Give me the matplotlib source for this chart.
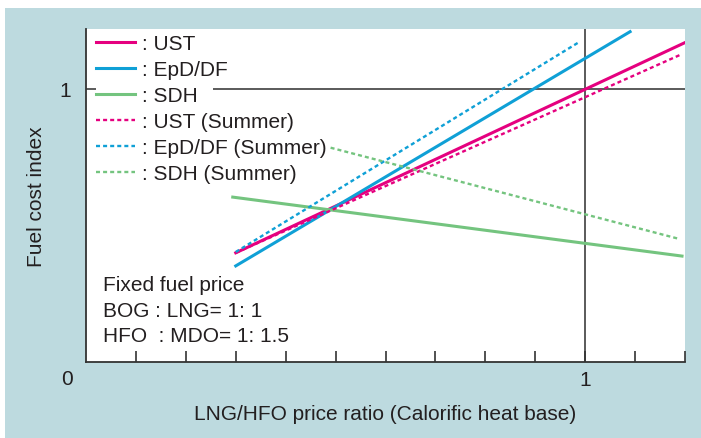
import matplotlib
matplotlib.use("Agg")
import matplotlib.pyplot as plt

plt.rcParams['font.family'] = ['Liberation Sans', 'DejaVu Sans']

# Data (x = LNG/HFO price ratio, y = fuel cost index)
ust_x = [0.30, 1.20]
ust_y = [0.40, 1.17]
epd_x = [0.30, 1.09]
epd_y = [0.352, 1.21]
sdh_x = [0.294, 1.194]
sdh_y = [0.604, 0.388]
ust_s_x = [0.30, 1.194]
ust_s_y = [0.40, 1.128]
epd_s_x = [0.30, 0.988]
epd_s_y = [0.403, 1.172]
sdh_s_x = [0.49, 1.186]
sdh_s_y = [0.785, 0.452]

labels = [": UST", ": EpD/DF", ": SDH", ": UST (Summer)", ": EpD/DF (Summer)", ": SDH (Summer)"]
note_lines = ["Fixed fuel price", "BOG : LNG= 1: 1", "HFO  : MDO= 1: 1.5"]

MAG = "#e5007f"
BLU = "#0fa0d6"
GRN = "#74c47f"
BG = "#bddadf"
TXT = "#231f20"
FS = 15

fig = plt.figure(figsize=(7.01, 4.39), dpi=100, facecolor="white")
bg = fig.add_axes([5/701, 0, 1 - 5/701, (439 - 9)/439], zorder=-10)
bg.set_facecolor(BG)
bg.set_xticks([]); bg.set_yticks([])
for s in bg.spines.values():
    s.set_visible(False)

ax = fig.add_axes([86/701, (439-363)/439, 599/701, 333/439], zorder=1)
ax.set_facecolor("white")
ax.set_xlim(0, 1.2)
ax.set_ylim(0, 333/273)

# reference lines
ax.axvline(1.0, color="#5a5a5a", lw=1.4, zorder=1)
ax.hlines(1.0, 0, 0.02, color="#5a5a5a", lw=1.4, zorder=1)
ax.hlines(1.0, 0.254, 1.2, color="#5a5a5a", lw=1.4, zorder=1)

lw = 2.2
dlw = 1.7
dash = (0, (1.7, 1.3))
ax.plot(ust_x, ust_y, color=MAG, lw=lw, label=labels[0], zorder=3)
ax.plot(epd_x, epd_y, color=BLU, lw=lw, label=labels[1], zorder=3)
ax.plot(sdh_x, sdh_y, color=GRN, lw=lw, label=labels[2], zorder=3)
ax.plot(ust_s_x, ust_s_y, color=MAG, lw=dlw, ls=dash, label=labels[3], zorder=3)
ax.plot(epd_s_x, epd_s_y, color=BLU, lw=dlw, ls=dash, label=labels[4], zorder=3)
ax.plot(sdh_s_x, sdh_s_y, color=GRN, lw=dlw, ls=dash, label=labels[5], zorder=3)

leg = ax.legend(loc="upper left", bbox_to_anchor=(10/599, (363 - 35.5)/333), frameon=False, fontsize=FS,
                handlelength=1.87, handletextpad=0.34, labelspacing=0.335, borderaxespad=0,
                borderpad=0)
for t in leg.get_texts():
    t.set_color(TXT)

for s in ["top", "right"]:
    ax.spines[s].set_visible(False)
for s in ["left", "bottom"]:
    ax.spines[s].set_color("#333333")
    ax.spines[s].set_linewidth(1.3)

xt = [0.1 * i for i in range(1, 13)]
ax.set_xticks(xt)
ax.set_xticklabels(["1" if abs(v - 1) < 1e-9 else "" for v in xt])
ax.tick_params(axis="x", direction="in", length=8, width=1.2, color="#333333",
               labelsize=FS, labelcolor=TXT, pad=6)
ax.set_yticks([1.0])
ax.set_yticklabels(["1"])
ax.tick_params(axis="y", direction="in", length=0, labelsize=FS, labelcolor=TXT, pad=11)

ax.text(-19/599, -17/333, "0", transform=ax.transAxes, ha="center", va="center", fontsize=FS, color=TXT)

ax.text(0.5, -52/333, "LNG/HFO price ratio (Calorific heat base)", transform=ax.transAxes,
        ha="center", va="center", fontsize=FS, color=TXT)
ax.text(-49/599, 0.5, "Fuel cost index", transform=ax.transAxes, rotation=90,
        ha="center", va="center", fontsize=FS, color=TXT)

for i, line in enumerate(note_lines):
    ax.text(17/599, (363 - 286 - 25.5 * i) / 333, line, transform=ax.transAxes,
            ha="left", va="center", fontsize=FS, color=TXT)

fig.savefig("out.png", dpi=100, facecolor="white")
